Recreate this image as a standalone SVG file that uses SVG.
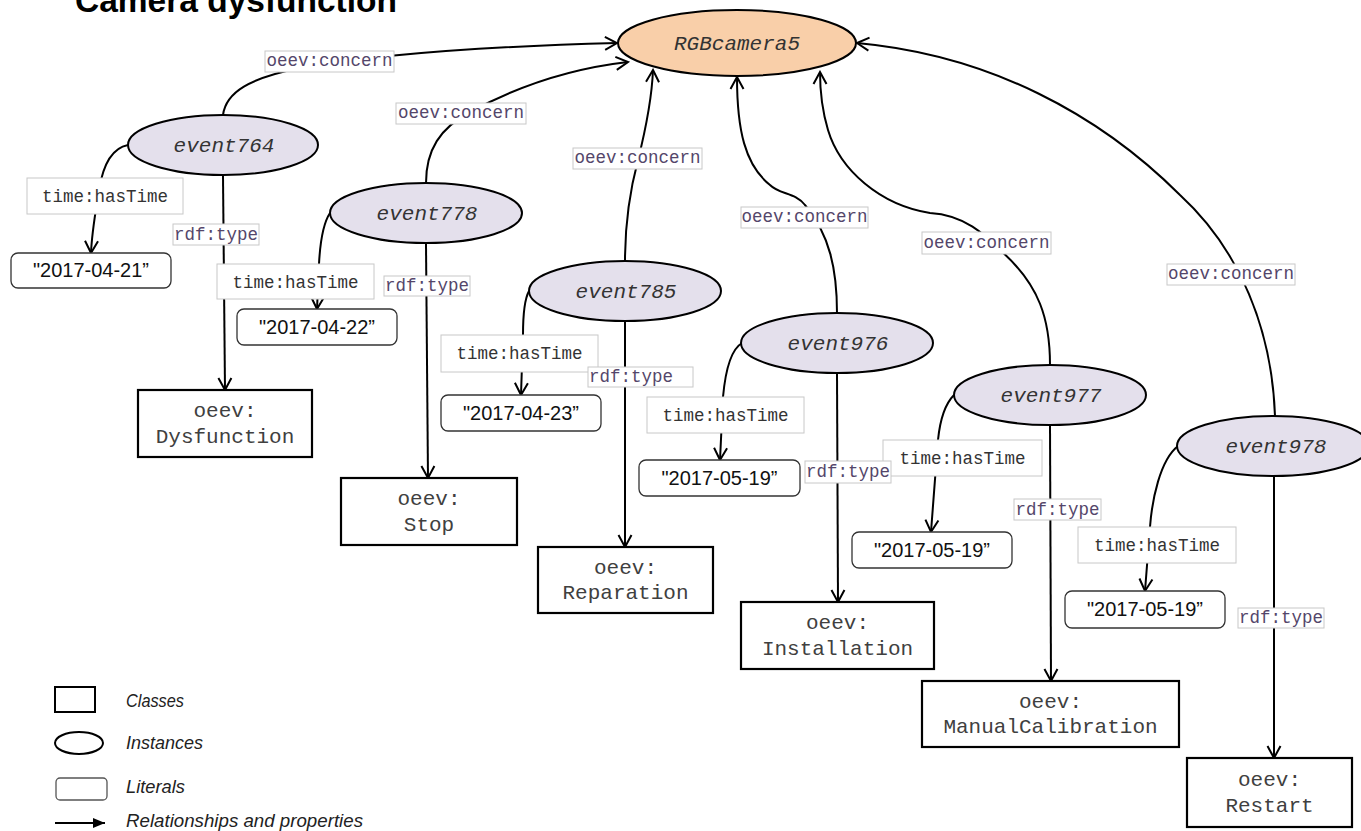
<svg xmlns="http://www.w3.org/2000/svg" width="1361" height="831" viewBox="0 0 1361 831">
<defs>
<style>
.edge{fill:none;stroke:#000;stroke-width:2}
.arr{marker-end:url(#open)}
.inst{fill:#E4E0EC;stroke:#000;stroke-width:2}
.cam{fill:#F9CFA9;stroke:#000;stroke-width:2}
.itxt{font-family:"Liberation Mono",monospace;font-style:italic;font-size:21px;fill:#333;text-anchor:middle}
.cls{fill:#fff;stroke:#000;stroke-width:2.2}
.ctxt{font-family:"Liberation Mono",monospace;font-size:21px;fill:#404040;text-anchor:middle}
.lit{fill:#fff;stroke:#333;stroke-width:1.3}
.ltxt{font-family:"Liberation Sans",Arial,sans-serif;font-size:20px;fill:#111;text-anchor:middle}
.lbl{fill:#fff;stroke:#c8c8c8;stroke-width:1}
.ptxt{font-family:"Liberation Mono",monospace;font-size:17.5px;fill:#54466a;text-anchor:middle}
.ttxt{font-family:"Liberation Mono",monospace;font-size:17.5px;fill:#333;text-anchor:middle}
.leg{font-family:"Liberation Sans",Arial,sans-serif;font-style:italic;font-size:19px;fill:#222}
</style>
<marker id="open" markerUnits="userSpaceOnUse" markerWidth="16" markerHeight="16" viewBox="0 0 16 16" refX="14" refY="8" orient="auto"><path d="M2,1.5 L14,8 L2,14.5" fill="none" stroke="#000" stroke-width="2"/></marker>
<marker id="solid" markerUnits="userSpaceOnUse" markerWidth="14" markerHeight="12" viewBox="0 0 14 12" refX="12" refY="6" orient="auto"><path d="M0,1 L12,6 L0,11 Z" fill="#000"/></marker>
</defs>
<rect width="1361" height="831" fill="#fff"/>
<text x="75" y="12" font-family="'Liberation Sans',Arial,sans-serif" font-weight="bold" font-size="33" textLength="322" lengthAdjust="spacingAndGlyphs" fill="#000">Camera dysfunction</text>

<g id="connectors">
<path class="edge arr" d="M223,115 C226,92 250,78 300,68 C380,54 500,46 617,43"/>
<path class="edge arr" d="M426,183 C426,150 440,128 470,112 C520,85 575,68 628,62"/>
<path class="edge arr" d="M625,261 C625,220 630,190 638,160 C648,120 652,95 653,70"/>
<path class="edge arr" d="M837,313 C837,270 830,235 805,205 C795,192 780,195 770,185 C745,165 737,130 737,77"/>
<path class="edge arr" d="M1050,365 C1050,320 1040,285 1000,250 C985,235 965,215 930,213 C880,205 840,170 828,130 C822,110 820,90 820,72"/>
<path class="edge arr" d="M1275,416 C1272,330 1240,250 1180,195 C1100,115 990,55 857,43"/>
<path class="edge arr" d="M128,145 C112,148 103,165 99,190 C96,210 92,230 91,253"/>
<path class="edge arr" d="M330,213 C322,225 320,245 319,264 L317,309"/>
<path class="edge arr" d="M529,291 C524,300 523,320 523,335 L521,395"/>
<path class="edge arr" d="M742,343 C730,350 725,375 723,397 L720,460"/>
<path class="edge arr" d="M954,395 C944,405 940,420 938,440 L931,532"/>
<path class="edge arr" d="M1178,446 C1160,460 1152,500 1150,527 L1145,591"/>
<path class="edge arr" d="M223,176 L225,390"/>
<path class="edge arr" d="M426,244 L428,478"/>
<path class="edge arr" d="M625,322 L625,547"/>
<path class="edge arr" d="M837,373 L838,602"/>
<path class="edge arr" d="M1050,426 L1051,681"/>
<path class="edge arr" d="M1274,476 L1274,758"/>
</g>

<g id="edge-labels">
<rect class="lbl" x="265" y="51" width="129" height="21"/><text class="ptxt" x="329.5" y="66">oeev:concern</text>
<rect class="lbl" x="396" y="103" width="130" height="21"/><text class="ptxt" x="461" y="118">oeev:concern</text>
<rect class="lbl" x="573" y="148" width="129" height="21"/><text class="ptxt" x="637.5" y="163">oeev:concern</text>
<rect class="lbl" x="741" y="207" width="127" height="21"/><text class="ptxt" x="804.5" y="222">oeev:concern</text>
<rect class="lbl" x="922" y="232" width="129" height="22"/><text class="ptxt" x="986.5" y="248">oeev:concern</text>
<rect class="lbl" x="1167" y="264" width="128" height="21"/><text class="ptxt" x="1231" y="279">oeev:concern</text>

<rect class="lbl" x="27" y="178" width="156" height="36"/><text class="ttxt" x="105" y="202">time:hasTime</text>
<rect class="lbl" x="217" y="264" width="157" height="35"/><text class="ttxt" x="295.5" y="288">time:hasTime</text>
<rect class="lbl" x="441" y="335" width="157" height="37"/><text class="ttxt" x="519.5" y="359">time:hasTime</text>
<rect class="lbl" x="647" y="397" width="157" height="36"/><text class="ttxt" x="725.5" y="421">time:hasTime</text>
<rect class="lbl" x="883" y="440" width="159" height="36"/><text class="ttxt" x="962.5" y="464">time:hasTime</text>
<rect class="lbl" x="1078" y="527" width="158" height="36"/><text class="ttxt" x="1157" y="551">time:hasTime</text>

<rect class="lbl" x="173" y="224" width="86" height="21"/><text class="ptxt" x="216" y="240">rdf:type</text>
<rect class="lbl" x="384" y="276" width="86" height="20"/><text class="ptxt" x="427" y="291">rdf:type</text>
<rect class="lbl" x="588" y="367" width="105" height="20"/><text class="ptxt" x="631" y="382">rdf:type</text>
<rect class="lbl" x="805" y="461" width="86" height="22"/><text class="ptxt" x="848" y="477">rdf:type</text>
<rect class="lbl" x="1014" y="499" width="87" height="21"/><text class="ptxt" x="1057.5" y="515">rdf:type</text>
<rect class="lbl" x="1238" y="608" width="86" height="20"/><text class="ptxt" x="1281" y="623">rdf:type</text>
</g>

<g id="RGBcamera5"><ellipse class="cam" cx="737" cy="43" rx="119" ry="33"/><text class="itxt" x="737" y="50">RGBcamera5</text></g>

<g id="event764"><ellipse class="inst" cx="223" cy="145" rx="95" ry="30"/><text class="itxt" x="224" y="152">event764</text></g>
<g id="event778"><ellipse class="inst" cx="426" cy="213" rx="96" ry="30"/><text class="itxt" x="427" y="220">event778</text></g>
<g id="event785"><ellipse class="inst" cx="625" cy="291" rx="96" ry="30"/><text class="itxt" x="626" y="298">event785</text></g>
<g id="event976"><ellipse class="inst" cx="837" cy="343" rx="96" ry="30"/><text class="itxt" x="838" y="350">event976</text></g>
<g id="event977"><ellipse class="inst" cx="1050" cy="395" rx="96" ry="30"/><text class="itxt" x="1051" y="402">event977</text></g>
<g id="event978"><ellipse class="inst" cx="1273" cy="446" rx="96" ry="30"/><text class="itxt" x="1276" y="453">event978</text></g>

<g id="lit764"><rect class="lit" x="11" y="253" width="160" height="35" rx="7"/><text class="ltxt" x="91" y="277">"2017-04-21”</text></g>
<g id="lit778"><rect class="lit" x="237" y="309" width="160" height="36" rx="7"/><text class="ltxt" x="317" y="334">"2017-04-22”</text></g>
<g id="lit785"><rect class="lit" x="441" y="395" width="160" height="36" rx="7"/><text class="ltxt" x="521" y="420">"2017-04-23”</text></g>
<g id="lit976"><rect class="lit" x="639" y="460" width="161" height="36" rx="7"/><text class="ltxt" x="719.5" y="485">"2017-05-19”</text></g>
<g id="lit977"><rect class="lit" x="852" y="532" width="160" height="36" rx="7"/><text class="ltxt" x="932" y="557">"2017-05-19”</text></g>
<g id="lit978"><rect class="lit" x="1065" y="591" width="160" height="37" rx="7"/><text class="ltxt" x="1145" y="616">"2017-05-19”</text></g>

<g id="Dysfunction"><rect class="cls" x="138" y="390" width="174" height="67"/><text class="ctxt" x="225" y="417">oeev:</text><text class="ctxt" x="225" y="443">Dysfunction</text></g>
<g id="Stop"><rect class="cls" x="341" y="478" width="176" height="67"/><text class="ctxt" x="429" y="505">oeev:</text><text class="ctxt" x="429" y="531">Stop</text></g>
<g id="Reparation"><rect class="cls" x="538" y="547" width="175" height="66"/><text class="ctxt" x="625.5" y="574">oeev:</text><text class="ctxt" x="625.5" y="599">Reparation</text></g>
<g id="Installation"><rect class="cls" x="741" y="602" width="193" height="67"/><text class="ctxt" x="837.5" y="629">oeev:</text><text class="ctxt" x="837.5" y="655">Installation</text></g>
<g id="ManualCalibration"><rect class="cls" x="922" y="681" width="257" height="66"/><text class="ctxt" x="1050.5" y="708">oeev:</text><text class="ctxt" x="1050.5" y="733">ManualCalibration</text></g>
<g id="Restart"><rect class="cls" x="1187" y="758" width="165" height="69"/><text class="ctxt" x="1269.5" y="786">oeev:</text><text class="ctxt" x="1269.5" y="812">Restart</text></g>

<g id="legend">
<rect x="55" y="687" width="40" height="25" fill="#fff" stroke="#000" stroke-width="2"/>
<text class="leg" x="126" y="707" textLength="58" lengthAdjust="spacingAndGlyphs">Classes</text>
<ellipse cx="79" cy="743" rx="24" ry="11" fill="#fff" stroke="#000" stroke-width="2"/>
<text class="leg" x="126" y="749" textLength="77" lengthAdjust="spacingAndGlyphs">Instances</text>
<rect x="56" y="778" width="51" height="22" rx="4" fill="#fff" stroke="#555" stroke-width="1.3"/>
<text class="leg" x="126" y="793" textLength="59" lengthAdjust="spacingAndGlyphs">Literals</text>
<path d="M55,823 L105,823" stroke="#000" stroke-width="2" marker-end="url(#solid)"/>
<text class="leg" x="126" y="827" textLength="237" lengthAdjust="spacingAndGlyphs">Relationships and properties</text>
</g>
</svg>
